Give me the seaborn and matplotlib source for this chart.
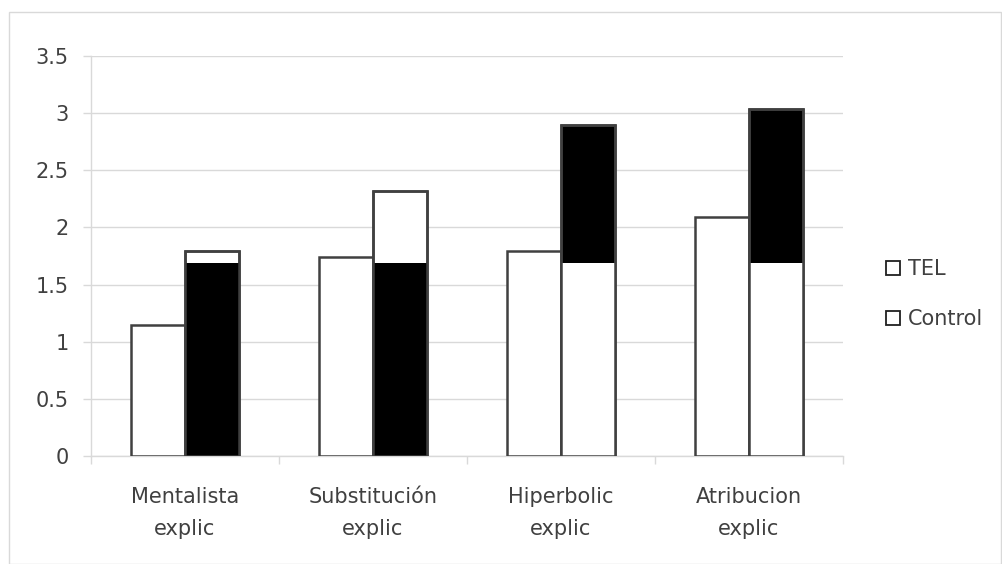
import numpy as np
import pandas as pd
import matplotlib
matplotlib.use("Agg")
import matplotlib.pyplot as plt
import seaborn as sns
from matplotlib.lines import Line2D
from matplotlib.patches import Rectangle

# Data
categories = ["Mentalista\nexplic", "Substitución\nexplic", "Hiperbolic\nexplic", "Atribucion\nexplic"]
groups = ["TEL", "Control"]
tel = [1.15, 1.74, 1.79, 2.09]
control = [1.79, 2.32, 2.90, 3.04]
control_inner = [1.69, 1.69, 1.69, 1.69]   # inner segment drawn inside the Control bars
control_fill = ["white", "white", "black", "black"]
inner_fill = ["black", "black", "white", "white"]
y_ticks = [0, 0.5, 1, 1.5, 2, 2.5, 3, 3.5]
y_labels = ["0", "0.5", "1", "1.5", "2", "2.5", "3", "3.5"]

df = pd.DataFrame({
    "cat": categories * 2,
    "group": [groups[0]] * 4 + [groups[1]] * 4,
    "value": tel + control,
})

sns.set_theme(style="white")
plt.rcParams["font.family"] = ["DejaVu Sans"]
text_col = "#404040"
edge_col = "#404040"
grid_col = "#d9d9d9"
fs = 15

fig = plt.figure(figsize=(10.02, 5.64), dpi=100)
ax = fig.add_axes([0.0908, 0.1915, 0.7505, 0.7092])

sns.barplot(data=df, x="cat", y="value", hue="group", order=categories,
            hue_order=groups, palette=["white", "white"], edgecolor=edge_col,
            linewidth=1.8, width=0.575, legend=False, ax=ax, zorder=3)

bars = ax.patches
ctrl_bars = bars[4:8]
for p, fc in zip(ctrl_bars, control_fill):
    p.set_facecolor(fc)

# inner segment of the Control bars
for p, h, fc in zip(ctrl_bars, control_inner, inner_fill):
    ax.bar(p.get_x() + p.get_width() / 2, h, width=p.get_width(),
           color=fc, edgecolor="none", zorder=4)
    # redraw the outline on top
    ax.bar(p.get_x() + p.get_width() / 2, p.get_height(), width=p.get_width(),
           facecolor="none", edgecolor=edge_col, linewidth=1.8, zorder=5)

ax.set_ylim(0, 3.5)
ax.set_xlim(-0.5, len(categories) - 0.5)
ax.set_yticks(y_ticks)
ax.set_yticklabels(y_labels)
ax.set_xlabel("")
ax.set_ylabel("")
ax.yaxis.grid(True, color=grid_col, linewidth=1)
ax.set_axisbelow(True)

for s in ["top", "right"]:
    ax.spines[s].set_visible(False)
for s in ["left", "bottom"]:
    ax.spines[s].set_color(grid_col)
    ax.spines[s].set_linewidth(1)

ax.tick_params(axis="y", which="major", length=6, color=grid_col, width=1,
               left=True, pad=10, labelsize=fs, labelcolor=text_col)
ax.tick_params(axis="x", which="major", length=0, pad=22, labelsize=fs,
               labelcolor=text_col)
ax.set_xticks(np.arange(-0.5, len(categories)), minor=True)
ax.tick_params(axis="x", which="minor", length=6, color=grid_col, width=1, bottom=True)
for lbl in ax.get_xticklabels():
    lbl.set_linespacing(1.8)

handles = [Line2D([0], [0], marker="s", linestyle="none", markersize=10,
                  markerfacecolor="white", markeredgecolor="#202020",
                  markeredgewidth=1.3) for _ in groups]
ax.legend(handles, groups, loc="center left", bbox_to_anchor=(1.03, 0.405),
          frameon=False, fontsize=fs, labelcolor=text_col, handlelength=0.8,
          handletextpad=0.35, labelspacing=1.45)

fig.patches.append(Rectangle((0.009, 0.0), 0.99, 0.978, transform=fig.transFigure,
                             fill=False, edgecolor=grid_col, linewidth=1))

fig.savefig("out.png", dpi=100)
